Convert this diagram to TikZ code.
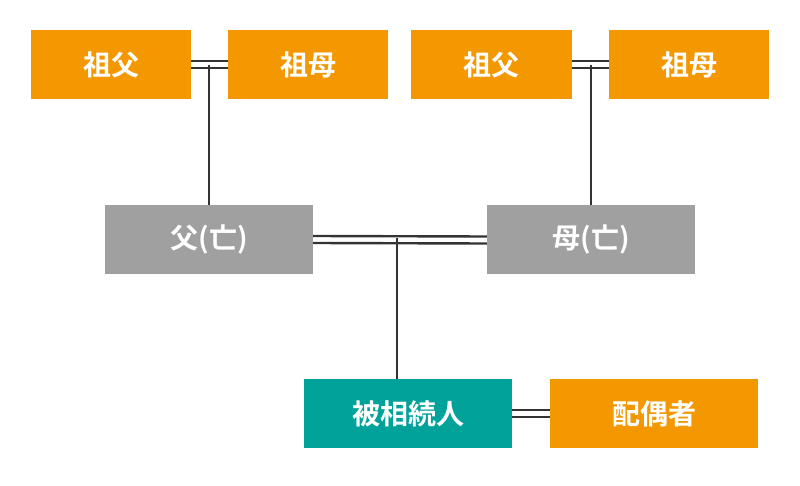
\documentclass[tikz,border=0pt]{standalone}
\usepackage{fontspec}
\newfontfamily\cjk{Noto Sans CJK JP}[BoldFont={Noto Sans CJK JP Bold}]
\definecolor{org}{HTML}{F39800}
\definecolor{gry}{HTML}{A0A0A0}
\definecolor{tea}{HTML}{00A29A}
\definecolor{ln}{HTML}{333333}
\begin{document}
\begin{tikzpicture}[x=1pt,y=-1pt,
 box/.style={minimum width=#1,minimum height=69,inner sep=0,text=white,font=\cjk\bfseries\fontsize{28}{30}\selectfont},
 ln/.style={draw=ln,line width=2.4}]
\useasboundingbox (0,0) rectangle (800,486);
\node[box=160,fill=org] (gf1) at (111,64.5) {祖父};
\node[box=160,fill=org] (gm1) at (308,64.5) {祖母};
\node[box=161,fill=org] (gf2) at (491.5,64.5) {祖父};
\node[box=160,fill=org] (gm2) at (689,64.5) {祖母};
\node[box=208,fill=gry] (fa) at (209,239.5) {父(亡)};
\node[box=208,fill=gry] (mo) at (591,239.5) {母(亡)};
\node[box=208,fill=tea] (me) at (408,413.5) {被相続人};
\node[box=208,fill=org] (sp) at (654,413.5) {配偶者};
\coordinate (j1) at (209,65);
\coordinate (j2) at (591,65);
\coordinate (j3) at (397,238);
\draw[ln] ([yshift=-3.5]gf1.east) -- ([yshift=-3.5]gm1.west);
\draw[ln] ([yshift=3.5]gf1.east) -- ([yshift=3.5]gm1.west);
\draw[ln] ([yshift=-3.5]gf2.east) -- ([yshift=-3.5]gm2.west);
\draw[ln] ([yshift=3.5]gf2.east) -- ([yshift=3.5]gm2.west);
\draw[ln] ([yshift=-3.5]fa.east) -- ([yshift=-4]mo.west);
\draw[ln] ([yshift=3.5]fa.east) -- ([yshift=3]mo.west);
\draw[ln] ([yshift=-3.5]me.east) -- ([yshift=-3.5]sp.west);
\draw[ln] ([yshift=3.5]me.east) -- ([yshift=3.5]sp.west);
\draw[ln] (j1) -- (fa.north);
\draw[ln] (j2) -- (mo.north);
\draw[ln] (j3) -- (me.north -| j3);
\end{tikzpicture}
\end{document}
